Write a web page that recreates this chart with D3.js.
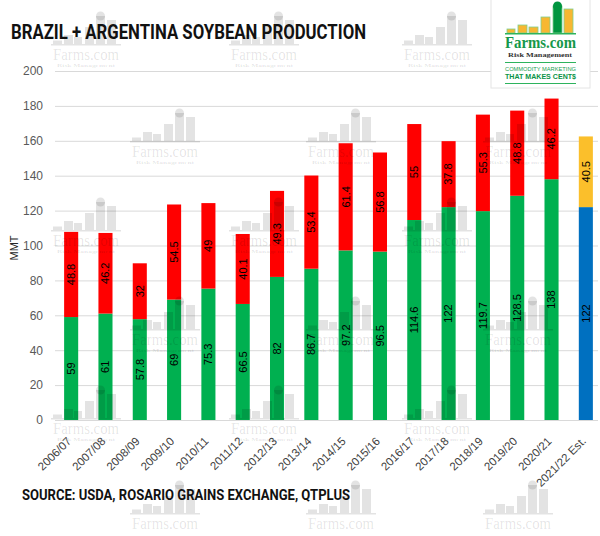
<!DOCTYPE html>
<html><head><meta charset="utf-8">
<script src="https://cdn.jsdelivr.net/npm/d3@7"></script>
<style>body{margin:0;background:#fff}svg{display:block}</style>
</head><body><svg id="c" width="600" height="536"></svg>
<script>
const categories = ["2006/07","2007/08","2008/09","2009/10","2010/11","2011/12","2012/13","2013/14","2014/15","2015/16","2016/17","2017/18","2018/19","2019/20","2020/21","2021/22 Est."];
const brazil = [59, 61, 57.8, 69, 75.3, 66.5, 82, 86.7, 97.2, 96.5, 114.6, 122, 119.7, 128.5, 138, 122];
const argentina = [48.8, 46.2, 32, 54.5, 49, 40.1, 49.3, 53.4, 61.4, 56.8, 55, 37.8, 55.3, 48.8, 46.2, 40.5];
const yTicks = [0, 20, 40, 60, 80, 100, 120, 140, 160, 180, 200];
const titleText = "BRAZIL + ARGENTINA SOYBEAN PRODUCTION";
const sourceText = "SOURCE: USDA, ROSARIO GRAINS EXCHANGE, QTPLUS";
const yLabel = "MMT";

const svg = d3.select("#c");
const x = d3.scaleBand().domain(categories).range([54, 603]).paddingInner(0.59).paddingOuter(0.295);
const y = d3.scaleLinear().domain([0, 200]).range([420, 71]);
const isEst = c => c.endsWith("Est.");
const rows = categories.map((c, i) => ({c, b: brazil[i], a: argentina[i]}));
const serif = "'Liberation Serif', 'DejaVu Serif', 'Times New Roman', serif";

// gridlines + y tick labels
const yAxis = svg.append("g").attr("transform", "translate(55,0)")
  .call(d3.axisLeft(y).tickValues(yTicks).tickSize(-543).tickPadding(12));
yAxis.select(".domain").remove();
yAxis.selectAll("line").attr("stroke", "#d9d9d9");
yAxis.selectAll("text").attr("fill", "#595959").style("font-family", "'Liberation Sans', Arial, sans-serif").style("font-size", "12px");

// bars
const bars = svg.append("g");
bars.selectAll("rect.br").data(rows).join("rect")
  .attr("x", d => x(d.c)).attr("width", x.bandwidth())
  .attr("y", d => y(d.b)).attr("height", d => y(0) - y(d.b))
  .attr("fill", d => isEst(d.c) ? "#0070c0" : "#00b050");
bars.selectAll("rect.ar").data(rows).join("rect")
  .attr("x", d => x(d.c)).attr("width", x.bandwidth())
  .attr("y", d => y(d.b + d.a)).attr("height", d => y(d.b) - y(d.b + d.a))
  .attr("fill", d => isEst(d.c) ? "#fbbf2b" : "#ff0000");

// watermarks (decorative)
const wm = svg.append("g").attr("fill", "#000").attr("fill-opacity", 0.11);
function drawWM(cx, ty, sub) {
  const base = ty - 16;
  const bs = [[-33, 9, 3.5], [-22, 9, 9], [-12, 8, 7], [-1, 9, 17], [10, 9, 28], [21, 9, 24]];
  bs.forEach(([dx, w, h]) => wm.append("rect").attr("x", cx + dx).attr("y", base - h).attr("width", w).attr("height", h));
  wm.append("circle").attr("cx", cx + 14.5).attr("cy", base - 28).attr("r", 4.5);
  wm.append("rect").attr("x", cx - 35).attr("y", base).attr("width", 70).attr("height", 1.5);
  wm.append("text").attr("x", cx).attr("y", ty).attr("text-anchor", "middle")
    .attr("textLength", 66).attr("lengthAdjust", "spacingAndGlyphs")
    .style("font-family", serif).style("font-size", "17px").text("Farms.com");
  if (sub) wm.append("text").attr("x", cx).attr("y", ty + 7).attr("text-anchor", "middle")
    .attr("textLength", 58).attr("lengthAdjust", "spacingAndGlyphs")
    .style("font-family", serif).style("font-size", "5px").style("font-weight", "bold").text("Risk Management");
}
[[86, 60], [264, 60], [437, 60],
 [165, 157], [341, 157], [518, 157],
 [86, 246], [264, 246], [437, 246],
 [165, 345], [341, 345], [518, 345],
 [86, 434], [264, 434], [437, 434]].forEach(p => drawWM(p[0], p[1], true));
[[165, 529], [341, 529], [518, 529]].forEach(p => drawWM(p[0], p[1], false));

// value labels
const lab = svg.append("g").style("font", "11px 'Liberation Sans', Arial, sans-serif").attr("fill", "#000");
rows.forEach(d => {
  const cx = x(d.c) + x.bandwidth() / 2;
  [[0, d.b], [d.b, d.b + d.a]].forEach(([lo, hi]) => {
    const cy = (y(lo) + y(hi)) / 2;
    lab.append("text").attr("transform", `translate(${cx},${cy}) rotate(-90)`)
      .attr("text-anchor", "middle").attr("dy", "0.35em").text(+(hi - lo).toFixed(1));
  });
});

// x axis labels
const xAxis = svg.append("g").attr("transform", "translate(0,420)")
  .call(d3.axisBottom(x).tickSize(0).tickPadding(0));
xAxis.select(".domain").remove();
xAxis.selectAll("text").attr("x", 0).attr("y", 0).attr("dy", "0.35em")
  .attr("text-anchor", "end").attr("transform", "translate(-2,19) rotate(-45)")
  .attr("fill", "#404040").style("font-family", "'Liberation Sans', Arial, sans-serif").style("font-size", "11.5px");

// y label
svg.append("text").attr("transform", "translate(14,248) rotate(-90)").attr("text-anchor", "middle")
  .attr("dy", "0.35em").attr("fill", "#262626")
  .style("font", "11px 'Liberation Sans', Arial, sans-serif").text(yLabel);

// title and source
svg.append("text").attr("x", 11).attr("y", 39).attr("textLength", 355).attr("lengthAdjust", "spacingAndGlyphs")
  .attr("fill", "#111").style("font", "bold 20px Roboto, 'DejaVu Sans', sans-serif").text(titleText);
svg.append("text").attr("x", 22).attr("y", 500).attr("textLength", 328).attr("lengthAdjust", "spacingAndGlyphs")
  .attr("fill", "#111").style("font", "bold 14px Roboto, 'DejaVu Sans', sans-serif").text(sourceText);

// logo
const lg = svg.append("g");
lg.append("rect").attr("x", 491).attr("y", -2).attr("width", 99).attr("height", 90)
  .attr("fill", "#fff").attr("stroke", "#e4e4e4");
const lb = [[507, 8, 4], [518, 9, 8], [529, 9, 6], [541, 9, 16], [564, 9, 24]];
lb.forEach(([bx, w, h]) => lg.append("rect").attr("x", bx).attr("y", 33 - h).attr("width", w).attr("height", h)
  .attr("fill", "#f7b731").attr("stroke", "#7fcf8f").attr("stroke-width", 0.8));
lg.append("rect").attr("x", 553).attr("y", 6).attr("width", 9).attr("height", 27).attr("fill", "#00953f").attr("stroke", "#7fcf8f").attr("stroke-width", 0.8);
lg.append("circle").attr("cx", 557.5).attr("cy", 6).attr("r", 4.5).attr("fill", "#00953f");
lg.append("rect").attr("x", 505).attr("y", 33).attr("width", 71).attr("height", 1.5).attr("fill", "#2db35d");
lg.append("text").attr("x", 505).attr("y", 48).attr("textLength", 71).attr("lengthAdjust", "spacingAndGlyphs")
  .attr("fill", "#15984a").style("font-family", serif).style("font-size", "16px").style("font-weight", "bold").text("Farms.com");
lg.append("text").attr("x", 540).attr("y", 57).attr("text-anchor", "middle").attr("textLength", 64).attr("lengthAdjust", "spacingAndGlyphs")
  .attr("fill", "#333").style("font-family", serif).style("font-size", "5.5px").style("font-weight", "bold").text("Risk Management");
lg.append("rect").attr("x", 505).attr("y", 62).attr("width", 71).attr("height", 1).attr("fill", "#2db35d");
lg.append("text").attr("x", 505).attr("y", 71).attr("textLength", 71).attr("lengthAdjust", "spacingAndGlyphs")
  .attr("fill", "#1aa050").style("font", "6px 'Liberation Sans', Arial, sans-serif").text("COMMODITY MARKETING");
lg.append("text").attr("x", 505).attr("y", 79).attr("textLength", 71).attr("lengthAdjust", "spacingAndGlyphs")
  .attr("fill", "#0a9346").style("font", "bold 6.5px 'Liberation Sans', Arial, sans-serif").text("THAT MAKES CENT$");
lg.append("rect").attr("x", 505).attr("y", 83).attr("width", 71).attr("height", 1).attr("fill", "#2db35d");
</script></body></html>
